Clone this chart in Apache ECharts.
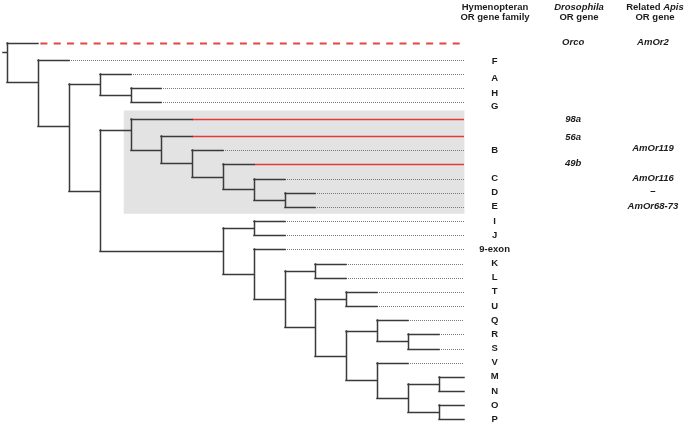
<!DOCTYPE html>
<html>
<head>
<meta charset="utf-8">
<script src="https://cdn.jsdelivr.net/npm/echarts@6/dist/echarts.min.js"></script>
<style>html,body{margin:0;padding:0;background:#fff}#c{width:685px;height:425px}</style>
</head>
<body>
<div id="c"></div>
<script>
// ---- DATA ----
// Tree topology (Newick), branch lengths in depth units; some internal nodes named for anchor overrides
const newick = "(Orco:1,(F:1,((A:1,(H:1,G:1):1):1,((98a:2,(56a:1,(B:1,(49b:1,(C:1,(D:1,E:1):1):1):1):1):1)nS:1,((I:1,J:1):1,(9-exon:1,((K:1,L:1):1,((T:1,U:1):1,((Q:1,(R:1,S:1):1):1,(V:1,((M:1,N:1):1,(O:1,P:1):1):1):1):1):1):1):1):4):1)n2:1)n1:1)root:0.14;";
const leafNames = ['Orco','F','A','H','G','98a','56a','B','49b','C','D','E','I','J','9-exon','K','L','T','U','Q','R','S','V','M','N','O','P'];
const leafRows  = [0,1.2,2.2,3.2,4.2,5.4,6.6,7.6,8.6,9.6,10.6,11.6,12.6,13.6,14.6,15.6,16.6,17.6,18.6,19.6,20.6,21.6,22.6,23.6,24.6,25.6,26.6];
const leafTips  = ['dash','dot','dot','dot','dot','red','red','dot','red','dot','dot','dot','dot','dot','dot','dot','dot','dot','dot','dot','dot','dot','dot','dot','dot','dot','dot'];
const anchorNames = ['root','n1','n2','nS'];
const anchorRows  = [0.67, 2.77, 5.86, 6.18];
const tipDepth = 14.83;
const shadeBox = [3.78, 4.8, 14.84, 12.08]; // depth from, row from, depth to, row to

const familyLabels = ['F','A','H','G','B','C','D','E','I','J','9-exon','K','L','T','U','Q','R','S','V','M','N','O','P'];
const familyRows   = [1.3,2.53,3.59,4.53,7.6,9.6,10.6,11.6,12.6,13.6,14.6,15.6,16.6,17.6,18.6,19.6,20.6,21.6,22.6,23.6,24.6,25.6,26.6];
const drosoLabels  = ['Orco','98a','56a','49b'];
const drosoRows    = [0,5.4,6.69,8.53];
const apisLabels   = ['AmOr2','AmOr119','AmOr116','\u2013','AmOr68-73'];
const apisRows     = [0,7.47,9.59,10.53,11.59];
const colFamily = 15.82, colDroso = 18.37, colApis = 20.96;

// ---- PARSE / LAYOUT ----
function parseNewick(s){
  let i=0;
  function node(){
    const n={children:[]};
    if(s[i]==='('){ i++; n.children.push(node()); while(s[i]===','){ i++; n.children.push(node()); } i++; }
    let name=''; while(i<s.length && !',():;'.includes(s[i])) name+=s[i++];
    n.name=name;
    n.len=0;
    if(s[i]===':'){ i++; let num=''; while(i<s.length && !',();'.includes(s[i])) num+=s[i++]; n.len=parseFloat(num); }
    return n;
  }
  return node();
}
const root = parseNewick(newick);
function layout(n, pd){
  n.depth = pd + n.len;
  if(!n.children.length){
    const k = leafNames.indexOf(n.name);
    n.row = leafRows[k]; n.tip = leafTips[k];
  } else {
    n.children.forEach(c=>layout(c, n.depth));
    n.top = n.children[0].row; n.bot = n.children[n.children.length-1].row;
    const a = anchorNames.indexOf(n.name);
    n.row = a>=0 ? anchorRows[a] : (n.top+n.bot)/2;
  }
}
layout(root, -root.len);
const solid=[], dots=[], reds=[], dashes=[];
function walk(n, pd){
  if(!n.children.length){
    const end = Math.min(n.depth, tipDepth);
    solid.push([pd, n.row, end, n.row]);
    if(n.depth < tipDepth){
      const seg=[n.depth, n.row, tipDepth, n.row];
      (n.tip==='red'?reds:n.tip==='dash'?dashes:dots).push(seg);
    }
  } else {
    solid.push([pd, n.row, n.depth, n.row]);
    solid.push([n.depth, n.top, n.depth, n.bot]);
    n.children.forEach(c=>walk(c, n.depth));
  }
}
walk(root, root.depth - root.len);

function lineSeries(data, style, z){
  return {type:'custom', coordinateSystem:'cartesian2d', clip:false, silent:true, z:z, data:data,
    renderItem:function(p, api){
      const a=api.coord([api.value(0),api.value(1)]), b=api.coord([api.value(2),api.value(3)]);
      const horiz = Math.abs(a[1]-b[1]) < 0.01;
      let x1,y1,x2,y2;
      if(horiz){ x1=Math.round(a[0]); x2=Math.round(b[0]); y1=y2=Math.round(a[1])+0.5; }
      else { x1=x2=Math.round(a[0])+0.5; y1=Math.round(a[1]); y2=Math.round(b[1]); }
      return {type:'line', shape:{x1:x1,y1:y1,x2:x2,y2:y2}, style:Object.assign({fill:null}, style)};
    }};
}
const FONT = '"Liberation Sans", Arial, sans-serif';
function textSeries(labels, rows, col, italic){
  return {type:'custom', coordinateSystem:'cartesian2d', clip:false, silent:true, z:10,
    data: labels.map((t,i)=>[col, rows[i], t]),
    renderItem:function(p, api){
      const pt=api.coord([api.value(0),api.value(1)]);
      return {type:'text', x:pt[0], y:pt[1], style:{text:labels[p.dataIndex], align:'center', verticalAlign:'middle',
        fontFamily:FONT, fontSize:9.5, fontWeight:'bold', fontStyle: italic?'italic':'normal', fill:'#1c1c1c'}};
    }};
}
const shadeSeries = {type:'custom', coordinateSystem:'cartesian2d', clip:false, silent:true, z:0,
  data:[shadeBox],
  renderItem:function(p, api){
    const a=api.coord([api.value(0),api.value(1)]), b=api.coord([api.value(2),api.value(3)]);
    return {type:'rect', shape:{x:a[0],y:a[1],width:b[0]-a[0],height:b[1]-a[1]}, style:{fill:'#e3e3e3'}};
  }};

const headStyle = {fontFamily:FONT, fontSize:9.5, fontWeight:'bold', fill:'#1c1c1c', align:'center', verticalAlign:'middle'};
function head(x,y,text){
  return {type:'text', x:x, y:y, style:Object.assign({text:text}, headStyle)};
}
const chart = echarts.init(document.getElementById('c'), null, {renderer:'canvas'});
chart.setOption({
  animation:false,
  grid:{left:7.3, top:0, width:30.9*22, height:425},
  xAxis:{type:'value', min:0, max:22, show:false},
  yAxis:{type:'value', min:-3, max:27, inverse:true, show:false},
  graphic:[
    head(495, 7, 'Hymenopteran'),
    head(495, 17, 'OR gene family'),
    {type:'text', x:579, y:7, style:Object.assign({}, headStyle, {text:'Drosophila', fontStyle:'italic'})},
    head(579, 17, 'OR gene'),
    {type:'text', x:655, y:7, style:Object.assign({}, headStyle, {text:'{a|Related }{b|Apis}',
      rich:{a:{fontFamily:FONT, fontSize:9.5, fontWeight:'bold', fill:'#1c1c1c'}, b:{fontFamily:FONT, fontSize:9.5, fontWeight:'bold', fontStyle:'italic', fill:'#1c1c1c'}}})},
    head(655, 17, 'OR gene')
  ],
  series:[
    shadeSeries,
    lineSeries(dots, {stroke:'#7a7a7a', lineWidth:1, lineDash:[1,1]}, 2),
    lineSeries(reds, {stroke:'#e23a3a', lineWidth:1.6}, 3),
    lineSeries(dashes, {stroke:'#e8453f', lineWidth:2, lineDash:[7,6.3], lineDashOffset:-2.4}, 3),
    lineSeries(solid, {stroke:'#3a3a3a', lineWidth:1.5, lineCap:'square'}, 4),
    textSeries(familyLabels, familyRows, colFamily, false),
    textSeries(drosoLabels, drosoRows, colDroso, true),
    textSeries(apisLabels, apisRows, colApis, true)
  ]
});
</script>
</body>
</html>
